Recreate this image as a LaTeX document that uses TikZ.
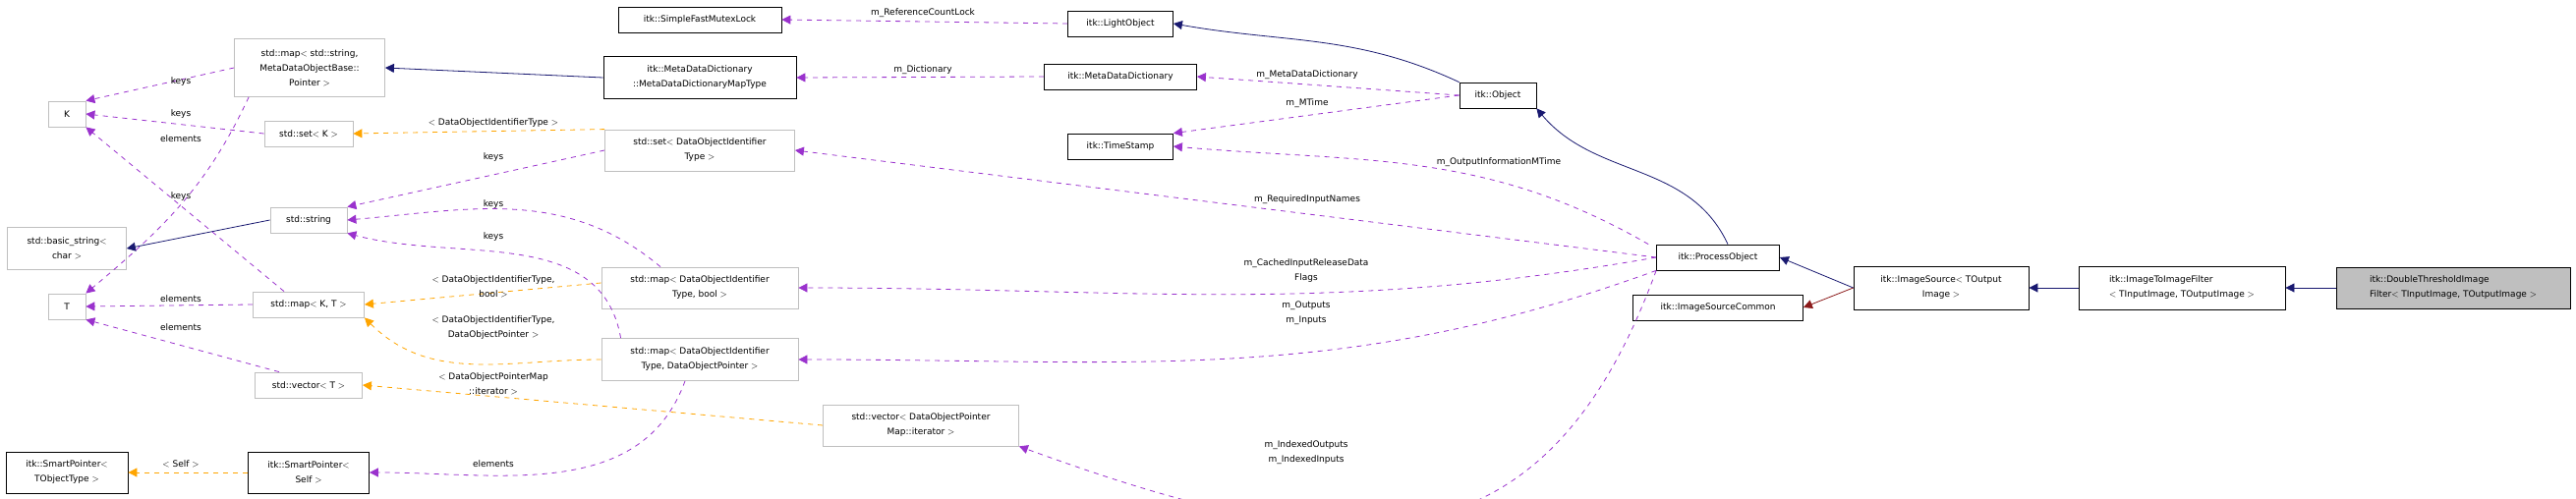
\documentclass[tikz,border=0pt]{standalone}
\usepackage{fontspec}
\setmainfont{DejaVu Sans}
\usetikzlibrary{arrows.meta}
\definecolor{navyc}{HTML}{191970}
\definecolor{purplec}{HTML}{9A32CD}
\definecolor{orangec}{HTML}{FFA500}
\definecolor{redc}{HTML}{8B1A1A}
\tikzset{
  cls/.style={draw=black, thick, fill=white, inner sep=2pt, align=center,
    font=\fontsize{9}{15}\selectfont, minimum height=26pt},
  ext/.style={cls, draw=black!25},
  lbl/.style={font=\fontsize{9}{15}\selectfont, align=center, inner sep=1pt},
  inh/.style={draw=navyc, thick, -{Triangle[length=9pt,width=9pt]}},
  prv/.style={draw=redc, thick, -{Triangle[length=9pt,width=9pt]}},
  use/.style={draw=purplec, thick, dash pattern=on 5pt off 5pt, -{Triangle[length=9pt,width=9pt]}},
  tpl/.style={draw=orangec, thick, dash pattern=on 5pt off 5pt, -{Triangle[length=9pt,width=9pt]}}
}
\begin{document}
\begin{tikzpicture}[x=1pt, y=-1pt]
  \useasboundingbox (0,0) rectangle (2621,508);
  % classes
  \node[cls, minimum width=166] (mutex) at (712,20) {itk::SimpleFastMutexLock};
  \node[ext, minimum width=153, minimum height=59] (mapmeta) at (315,69) {std::map$<$ std::string,\\MetaDataObjectBase::\\Pointer $>$};
  \node[cls, minimum width=196, minimum height=43] (mddmap) at (712,79) {itk::MetaDataDictionary\\::MetaDataDictionaryMapType};
  \node[ext, minimum width=38] (K) at (68,116) {K};
  \node[ext, minimum width=90] (setK) at (314,136) {std::set$<$ K $>$};
  \node[ext, minimum width=193, minimum height=42] (setid) at (712,153) {std::set$<$ DataObjectIdentifier\\Type $>$};
  \node[ext, minimum width=78] (string) at (314,224) {std::string};
  \node[ext, minimum width=121, minimum height=43] (basic) at (68,253) {std::basic\_string$<$\\char $>$};
  \node[ext, minimum width=38] (T) at (68,312) {T};
  \node[ext, minimum width=113] (mapKT) at (314,310) {std::map$<$ K, T $>$};
  \node[ext, minimum width=200, minimum height=42] (mapbool) at (712,293) {std::map$<$ DataObjectIdentifier\\Type, bool $>$};
  \node[ext, minimum width=109] (vecT) at (314,392) {std::vector$<$ T $>$};
  \node[ext, minimum width=200, minimum height=43] (mapptr) at (712,366) {std::map$<$ DataObjectIdentifier\\Type, DataObjectPointer $>$};
  \node[cls, minimum width=124, minimum height=42] (spobj) at (68,481) {itk::SmartPointer$<$\\TObjectType $>$};
  \node[cls, minimum width=123, minimum height=42] (spself) at (314,481) {itk::SmartPointer$<$\\Self $>$};
  \node[cls, minimum width=107] (light) at (1140,24) {itk::LightObject};
  \node[cls, minimum width=155] (mdd) at (1140,78) {itk::MetaDataDictionary};
  \node[cls, minimum width=78] (object) at (1524,97) {itk::Object};
  \node[cls, minimum width=107] (stamp) at (1140,149) {itk::TimeStamp};
  \node[ext, minimum width=199, minimum height=42] (vecmap) at (937,433) {std::vector$<$ DataObjectPointer\\Map::iterator $>$};
  \node[cls, minimum width=125] (process) at (1748,262) {itk::ProcessObject};
  \node[cls, minimum width=173] (common) at (1748,313) {itk::ImageSourceCommon};
  \node[cls, minimum width=178, minimum height=44] (source) at (1975,293) {itk::ImageSource$<$ TOutput\\Image $>$};
  \node[cls, minimum width=210, minimum height=44, align=left] (i2i) at (2220,293) {itk::ImageToImageFilter\\$<$ TInputImage, TOutputImage $>$};
  \node[cls, fill=black!25, minimum width=238, minimum height=42, align=left] (dthresh) at (2496,293) {itk::DoubleThresholdImage\\Filter$<$ TInputImage, TOutputImage $>$};
  % inheritance
  \draw[inh] (mddmap.west) -- (mapmeta.east);
  \draw[inh] (string.west) -- (basic.east);
  \draw[inh] (object.north west) to[out=155,in=-10] (light.east);
  \draw[inh] ([xshift=10pt]process.north) to[out=115,in=-50] (object.south east);
  \draw[inh] (source.west) -- (process.east);
  \draw[prv] (source.west) -- (common.east);
  \draw[inh] (i2i.west) -- (source.east);
  \draw[inh] (dthresh.west) -- (i2i.east);
  % members
  \draw[use] (light.west) -- (mutex.east);
  \draw[use] (mdd.west) -- (mddmap.east);
  \draw[use] (object.west) -- (mdd.east);
  \draw[use] (object.west) -- (stamp.north east);
  \draw[use] ([xshift=-8pt]process.north west) to[out=150,in=-5] (stamp.east);
  \draw[use] (process.west) -- (setid.east);
  \draw[use] (process.west) to[out=-170,in=0] (mapbool.east);
  \draw[use] (process.south west) to[out=-160,in=0] (mapptr.east);
  \draw[use] (process.south west) to[out=-110,in=-20, looseness=1.3] (vecmap.south east);
  \draw[use] (mapmeta.west) -- (K.north east);
  \draw[use] (setK.west) -- (K.east);
  \draw[use] ([xshift=15pt]mapmeta.south west) to[out=-115,in=40] (T.north east);
  \draw[use] ([xshift=-25pt]mapKT.north) -- (K.south east);
  \draw[use] (setid.west) -- (string.north east);
  \draw[use] ([xshift=-40pt]mapbool.north) to[out=140,in=5] (string.east);
  \draw[use] ([xshift=20pt]mapptr.north west) to[out=100,in=-15] (string.south east);
  \draw[use] (mapKT.west) -- (T.east);
  \draw[use] ([xshift=-30pt]vecT.north) -- (T.south east);
  \draw[use] ([xshift=-15pt]mapptr.south) to[out=-110,in=0] (spself.east);
  % templates
  \draw[tpl] (setid.north west) -- (setK.east);
  \draw[tpl] ([yshift=5pt]mapbool.west) -- (mapKT.east);
  \draw[tpl] (mapptr.west) to[out=180,in=-45] (mapKT.south east);
  \draw[tpl] (vecmap.west) -- (vecT.east);
  \draw[tpl] (spself.west) -- (spobj.east);
  % edge labels
  \node[lbl] (lkeysa) at (184,83) {keys};
  \node[lbl] (lkeysb) at (184,116) {keys};
  \node[lbl] (lelema) at (184,141) {elements};
  \node[lbl] (lkeysc) at (184,200) {keys};
  \node[lbl] (lelemb) at (184,304) {elements};
  \node[lbl] (lelemc) at (184,333) {elements};
  \node[lbl] (lself) at (184,472) {$<$ Self $>$};
  \node[lbl] (ltplset) at (502,125) {$<$ DataObjectIdentifierType $>$};
  \node[lbl] (lkeysd) at (502,160) {keys};
  \node[lbl] (lkeyse) at (502,208) {keys};
  \node[lbl] (lkeysf) at (502,241) {keys};
  \node[lbl] (ltplbool) at (502,292) {$<$ DataObjectIdentifierType,\\bool $>$};
  \node[lbl] (ltplptr) at (502,334) {$<$ DataObjectIdentifierType,\\DataObjectPointer $>$};
  \node[lbl] (ltplvec) at (502,391) {$<$ DataObjectPointerMap\\::iterator $>$};
  \node[lbl] (lelemd) at (502,472) {elements};
  \node[lbl] (lrefcnt) at (939,13) {m\_ReferenceCountLock};
  \node[lbl] (ldict) at (939,71) {m\_Dictionary};
  \node[lbl] (lmdd) at (1330,76) {m\_MetaDataDictionary};
  \node[lbl] (lmtime) at (1330,105) {m\_MTime};
  \node[lbl] (loutinfo) at (1525,165) {m\_OutputInformationMTime};
  \node[lbl] (lreq) at (1330,203) {m\_RequiredInputNames};
  \node[lbl] (lcached) at (1329,276) {m\_CachedInputReleaseData\\Flags};
  \node[lbl] (lio) at (1329,319) {m\_Outputs\\m\_Inputs};
  \node[lbl] (lindexed) at (1329,461) {m\_IndexedOutputs\\m\_IndexedInputs};
\end{tikzpicture}
\end{document}
